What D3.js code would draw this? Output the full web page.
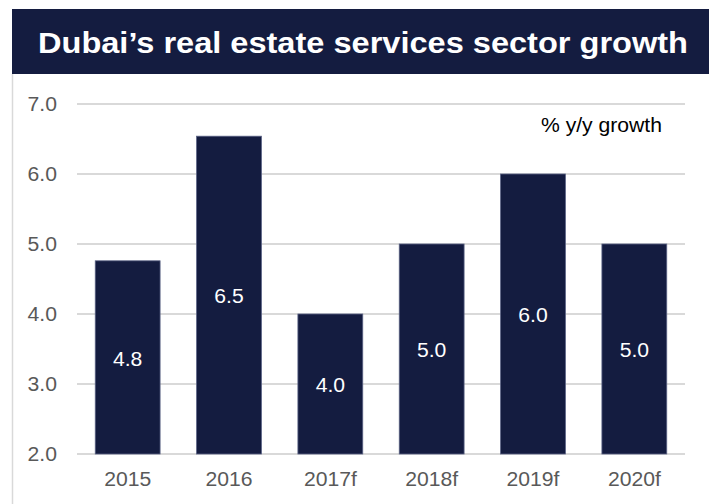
<!DOCTYPE html>
<html>
<head>
<meta charset="utf-8">
<script src="https://cdn.jsdelivr.net/npm/d3@7"></script>
<style>
  html, body { margin: 0; padding: 0; background: #ffffff; }
  svg { display: block; }
  text { font-family: "Liberation Sans", Arial, sans-serif; }
</style>
</head>
<body>
<svg id="chart" width="709" height="504"></svg>
<script>
// Chart data
const titleText = "Dubai\u2019s real estate services sector growth";
const unitLabel = "% y/y growth";
const categories = ["2015", "2016", "2017f", "2018f", "2019f", "2020f"];
const growth = [4.76, 6.54, 4.0, 5.0, 6.0, 5.0];
const yTicks = [2, 3, 4, 5, 6, 7];

const W = 709, H = 504;
const navy = "#141c40";
const stretch = 1.085; // slightly wide lettering
const svg = d3.select("#chart");

// place a text element at (x, y) with the wide lettering
function placeText(sel, fx, fy) {
  sel.attr("transform", (d, i) => `translate(${fx(d, i)},${fy(d, i)}) scale(${stretch},1)`);
}

// Title banner
svg.append("rect")
  .attr("x", 12).attr("y", 9)
  .attr("width", W - 12).attr("height", 65)
  .attr("fill", navy);
svg.append("text")
  .attr("text-anchor", "middle")
  .attr("fill", "#ffffff")
  .attr("font-weight", "bold")
  .attr("font-size", 30)
  .text(titleText)
  .call(placeText, () => 363, () => 53);

// Frame line on the left edge
svg.append("line")
  .attr("x1", 12.5).attr("x2", 12.5)
  .attr("y1", 74).attr("y2", H)
  .attr("stroke", "#d9d9d9").attr("stroke-width", 1.5);

// Scales
const plot = { left: 77, right: 685, top: 104, bottom: 454 };
const x = d3.scaleBand()
  .domain(categories)
  .range([plot.left, plot.right])
  .paddingInner(0.36)
  .paddingOuter(0.18);
const y = d3.scaleLinear()
  .domain([2, 7])
  .range([plot.bottom, plot.top]);

// Gridlines
svg.append("g")
  .selectAll("line")
  .data(yTicks)
  .join("line")
  .attr("x1", plot.left).attr("x2", plot.right)
  .attr("y1", d => y(d)).attr("y2", d => y(d))
  .attr("stroke", "#d9d9d9").attr("stroke-width", 2);

// Y axis labels
const yAxis = d3.axisLeft(y)
  .tickValues(yTicks)
  .tickFormat(d3.format(".1f"))
  .tickSize(0)
  .tickPadding(0);
const yg = svg.append("g")
  .attr("transform", `translate(${plot.left - 20},0)`)
  .call(yAxis);
yg.select(".domain").remove();
yg.selectAll("text")
  .attr("font-size", 19.5)
  .attr("font-family", "Liberation Sans, Arial, sans-serif")
  .attr("fill", "#595959")
  .attr("transform", `scale(${stretch},1)`);

// X axis labels
const xAxis = d3.axisBottom(x).tickSize(0).tickPadding(0);
const xg = svg.append("g")
  .attr("transform", `translate(0,${plot.bottom + 18})`)
  .call(xAxis);
xg.select(".domain").remove();
xg.selectAll("text")
  .attr("font-size", 19.5)
  .attr("font-family", "Liberation Sans, Arial, sans-serif")
  .attr("fill", "#595959")
  .attr("transform", `scale(${stretch},1)`);

// Bars
const data = categories.map((c, i) => ({ cat: c, v: growth[i] }));
svg.append("g")
  .selectAll("rect")
  .data(data)
  .join("rect")
  .attr("x", d => x(d.cat))
  .attr("y", d => y(d.v))
  .attr("width", x.bandwidth())
  .attr("height", d => y(2) - y(d.v))
  .attr("fill", navy)
  .attr("stroke", "#5b6385")
  .attr("stroke-width", 0.8);

// Value labels centred in bars
svg.append("g")
  .selectAll("text")
  .data(data)
  .join("text")
  .attr("dy", "0.35em")
  .attr("text-anchor", "middle")
  .attr("fill", "#ffffff")
  .attr("font-size", 19.5)
  .text(d => d3.format(".1f")(d.v))
  .call(placeText,
    d => x(d.cat) + x.bandwidth() / 2,
    d => (y(d.v) + y(2)) / 2 + 1.5);

// Unit note
svg.append("text")
  .attr("text-anchor", "end")
  .attr("fill", "#000000")
  .attr("font-size", 19.5)
  .text(unitLabel)
  .call(placeText, () => 662, () => 132);
</script>
</body>
</html>
